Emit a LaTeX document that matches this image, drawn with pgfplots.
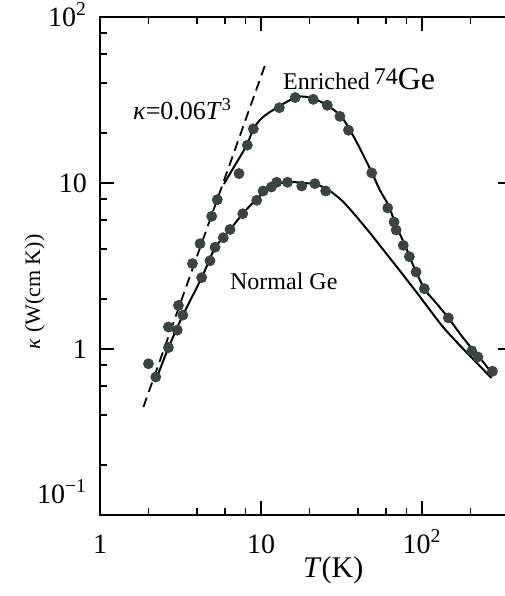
\documentclass[border=0pt]{standalone}
\usepackage{fontspec}
\setmainfont{Liberation Serif}
\usepackage{pgfplots}
\pgfplotsset{compat=1.18}
\definecolor{dotgrey}{HTML}{3B4343}

% measured data (T in K, kappa in W/(cm K))
\pgfplotstableread{
T kappa
2.00 0.815
2.66 1.357
3.07 1.83
3.75 3.27
4.18 4.31
4.94 6.30
5.35 7.93
7.30 11.4
8.22 16.9
8.96 21.2
13.0 28.4
16.3 32.7
21.1 31.9
25.8 29.4
30.9 25.2
34.9 20.8
48.7 11.5
61.2 7.07
67.0 5.82
69.0 5.21
76.5 4.21
83.4 3.60
91.8 2.91
103.3 2.31
145.6 1.54
203.7 0.973
222 0.895
273.5 0.734
}\enriched
\pgfplotstableread{
T kappa
2.22 0.678
2.66 1.02
3.02 1.30
3.27 1.60
4.28 2.69
4.82 3.40
5.18 4.10
5.83 4.68
6.42 5.25
7.70 6.53
9.40 7.87
10.3 8.95
11.6 9.46
12.5 10.1
14.6 10.1
17.9 9.59
21.6 9.91
25.2 8.95
}\normal

\begin{document}
\begin{tikzpicture}
\begin{axis}[
  xmode=log, ymode=log,
  scale only axis, width=206pt, height=249pt,
  xmin=1, xmax=362, ymin=0.1, ymax=100,
  xtick={1,10,100}, xticklabels={1,10,10\textsuperscript{2}},
  ytick={0.1,1,10,100},
  yticklabels={\raisebox{10.5pt}{10\textsuperscript{−1}},1,10,10\textsuperscript{2}},
  minor xtick={2,4,6,8,20,40,60,80,200},
  minor ytick={0.2,0.4,0.6,0.8,2,4,6,8,20,40,60,80},
  major tick length=7pt, minor tick length=3.5pt,
  axis line style={line width=1pt},
  every tick/.style={black,line width=0.9pt},
  tick label style={font=\fontsize{14}{16}\selectfont},
  xticklabel style={anchor=base, yshift=-19pt},
  yticklabel style={anchor=base east, xshift=-3pt, yshift=-4.7pt},
  xlabel={\textit{T}(K)}, ylabel={\textit{κ} (W(cm K))},
  every axis x label/.style={at={(axis description cs:0.566,0)}, anchor=center,
    yshift=-27.5pt, font=\fontsize{15}{17}\selectfont},
  every axis y label/.style={at={(axis description cs:-0.158,0.448)}, rotate=90,
    anchor=center, font=\fontsize{11}{13}\selectfont},
]
% kappa = 0.06 T^3 guide
\addplot[black, line width=0.9pt, dash pattern=on 5pt off 3pt] coordinates {(1.86,0.447) (10.85,54.8)};
% fitted curves
\addplot[black, line width=1pt, smooth] coordinates {
 (5.89,9.86) (6.42,11.4) (8.15,16.9) (8.96,21.2) (10.3,25.0) (13.0,29.0)
 (16.3,32.7) (19.2,33.0) (24.4,30.3) (31.0,25.6) (35.7,20.8) (41.2,16.1)
 (48.7,11.6) (54.8,9.03) (61.8,7.34) (69.6,5.43) (78.4,4.22) (87.9,3.21)
 (103.3,2.31) (123.4,1.875) (145.6,1.54) (172,1.236) (203.7,1.004)
 (235,0.855) (271,0.717)};
\addplot[black, line width=1pt, smooth] coordinates {
 (2.22,0.648) (2.66,1.018) (3.27,1.596) (4.28,2.69) (5.18,4.06) (6.42,5.23)
 (7.70,6.53) (9.40,8.01) (11.65,9.46) (14.45,10.14) (18.3,10.0) (22.2,9.79)
 (26.8,8.95) (32.5,7.68) (39.3,6.24) (47.5,5.00) (58.9,3.84) (73.0,2.95)
 (97.2,2.06) (135,1.357) (190.5,0.946) (270,0.669)};
% data points
\addplot[only marks, mark=*, mark size=2.5pt, draw=dotgrey, fill=dotgrey] table[x=T,y=kappa] {\enriched};
\addplot[only marks, mark=*, mark size=2.5pt, draw=dotgrey, fill=dotgrey] table[x=T,y=kappa] {\normal};

\node[anchor=west, font=\fontsize{13}{15}\selectfont] at (axis cs:1.45,27.9)
  {\textit{κ}=0.06\textit{T}\textsuperscript{3}};
\node[anchor=west, font=\fontsize{12}{14}\selectfont] at (axis cs:12.4,42.3)
  {Enriched\,\raisebox{0.5ex}{74}{\fontsize{16}{18}\selectfont Ge}};
\node[anchor=west, font=\fontsize{12}{14}\selectfont] at (axis cs:5.81,2.57) {Normal Ge};
\end{axis}
\pgfresetboundingbox
\path ([xshift=-50pt,yshift=-40.5pt]current axis.south west)
  rectangle ([xshift=202pt,yshift=8.5pt]current axis.north west);
\end{tikzpicture}
\end{document}
